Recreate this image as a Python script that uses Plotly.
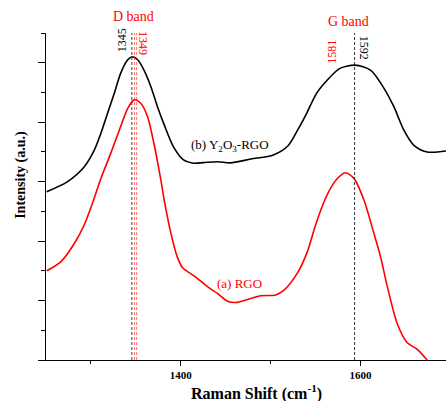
import plotly.graph_objects as go

# ---- data ----
raman_b = [1250.8, 1274, 1292.6, 1303.7, 1311, 1318.5, 1326, 1333, 1340.7, 1346, 1352, 1359,
           1366.7, 1374, 1381, 1392, 1403, 1414, 1425, 1441, 1455, 1478, 1503, 1519, 1530,
           1540, 1551, 1563, 1577, 1594, 1611, 1625, 1637, 1648, 1659, 1674, 1695]
intensity_b = [5.66, 6.0, 6.5, 7.06, 7.62, 8.3, 8.97, 9.64, 10.09, 10.2, 10.1, 9.75,
               9.19, 8.52, 7.95, 7.16, 6.73, 6.62, 6.64, 6.67, 6.63, 6.76, 6.9, 7.2, 7.74,
               8.3, 8.97, 9.42, 9.81, 9.92, 9.75, 9.19, 8.52, 7.74, 7.23, 7.0, 7.03]

raman_a = [1250.8, 1266.7, 1281.5, 1292.6, 1302, 1311, 1322, 1333, 1340.7, 1348, 1355.6, 1363,
           1370, 1377.8, 1381.5, 1389, 1396, 1402, 1414.8, 1429.6, 1440.7, 1451.9, 1463,
           1477.8, 1488.9, 1505.6, 1514.8, 1529.6, 1540.5, 1550, 1559, 1567, 1575, 1583,
           1592.6, 1603.7, 1614.8, 1622, 1629.5, 1640.7, 1651.9, 1663, 1674]
intensity_a = [3.0, 3.31, 3.92, 4.55, 5.3, 6.1, 6.95, 7.85, 8.45, 8.75, 8.63, 8.18,
               7.29, 6.05, 5.38, 4.26, 3.47, 3.1, 2.83, 2.47, 2.24, 1.98, 1.94,
               2.07, 2.16, 2.19, 2.35, 2.92, 3.62, 4.55, 5.3, 5.8, 6.13, 6.3,
               6.11, 5.38, 4.26, 3.5, 2.5, 1.23, 0.58, 0.36, 0.0]

d_band_b, d_band_a1, d_band_a2, g_band = 1345.5, 1348.5, 1350.8, 1593.3
x_tickvals = [1400, 1600]
x_ticktext = ["1400", "1600"]

SERIF = "Liberation Serif"
RED = "#ff0000"

fig = go.Figure()
fig.add_trace(go.Scatter(x=raman_b, y=intensity_b, mode="lines",
                         line=dict(color="black", width=1.6, shape="spline", smoothing=0.8),
                         showlegend=False, hoverinfo="skip"))
fig.add_trace(go.Scatter(x=raman_a, y=intensity_a, mode="lines",
                         line=dict(color=RED, width=1.6, shape="spline", smoothing=0.8),
                         showlegend=False, hoverinfo="skip"))

shapes = [
    dict(type="line", xref="x", yref="y", x0=d_band_b, x1=d_band_b, y0=0, y1=11,
         line=dict(color="#444444", width=1, dash="3px,2px")),
    dict(type="line", xref="x", yref="y", x0=d_band_a1, x1=d_band_a1, y0=0, y1=11,
         line=dict(color="rgba(255,0,0,0.55)", width=1, dash="3px,2px")),
    dict(type="line", xref="x", yref="y", x0=d_band_a2, x1=d_band_a2, y0=0, y1=11,
         line=dict(color="rgba(255,0,0,0.55)", width=1, dash="3px,2px")),
    dict(type="line", xref="x", yref="y", x0=g_band, x1=g_band, y0=0, y1=11,
         line=dict(color="#333333", width=1, dash="3px,2px")),
]

def ann(text, x, y, color, size=13, angle=0, xref="x", yref="paper", bold=False):
    return dict(text=text, x=x, y=y, xref=xref, yref=yref, showarrow=False,
                textangle=angle, xanchor="center", yanchor="middle",
                font=dict(family=SERIF, size=size, color=color,
                          weight="bold" if bold else "normal"))

annotations = [
    ann("D band", 1347.8, 1.0499, RED, size=14),
    ann("1345", 1334, 0.9764, "black", size=12, angle=-90),
    ann("1349", 1358, 0.9688, RED, size=12, angle=90),
    ann("G band", 1587, 1.0355, RED, size=14),
    ann("1581", 1568.5, 0.9437, RED, size=12, angle=-90),
    ann("1592", 1603.7, 0.955, "black", size=12, angle=90),
    ann("(b) Y<sub>2</sub>O<sub>3</sub>-RGO", 1454.2, 7.23, "black", size=13, yref="y"),
    ann("(a) RGO", 1465.3, 2.58, RED, size=13, yref="y"),
    ann("Intensity (a.u.)", -0.061, 0.565, "black", size=14, angle=-90,
        xref="paper", bold=True),
    ann("Raman Shift (cm<sup>-1</sup>)", 0.5256, -0.098, "black", size=16,
        xref="paper", bold=True),
]

fig.update_layout(
    width=446, height=401,
    margin=dict(l=45.5, r=0, t=33.3, b=41),
    paper_bgcolor="white", plot_bgcolor="white",
    shapes=shapes, annotations=annotations,
    xaxis=dict(range=[1250, 1695], showgrid=False, zeroline=False,
               showline=True, linecolor="black", linewidth=1.3,
               tickmode="array", tickvals=x_tickvals, ticktext=x_ticktext,
               ticks="outside", ticklen=5, tickwidth=1, tickcolor="black",
               minor=dict(tickvals=[1300, 1500], ticks="outside", ticklen=3,
                          tickwidth=1, tickcolor="black"),
               tickfont=dict(family=SERIF, size=11, color="black", weight="bold")),
    yaxis=dict(range=[0, 11], showgrid=False, zeroline=False,
               showline=True, linecolor="black", linewidth=1.3,
               tickmode="array", tickvals=[0, 2, 4, 6, 8, 10], showticklabels=False,
               ticks="outside", ticklen=6.5, tickwidth=1, tickcolor="black",
               minor=dict(tickvals=[1, 3, 5, 7, 9, 11], ticks="outside", ticklen=4,
                          tickwidth=1, tickcolor="black")),
)

fig.write_html("out.html", config={"displayModeBar": False},
               post_script="document.body.style.margin='0';document.body.style.overflow='hidden';")
